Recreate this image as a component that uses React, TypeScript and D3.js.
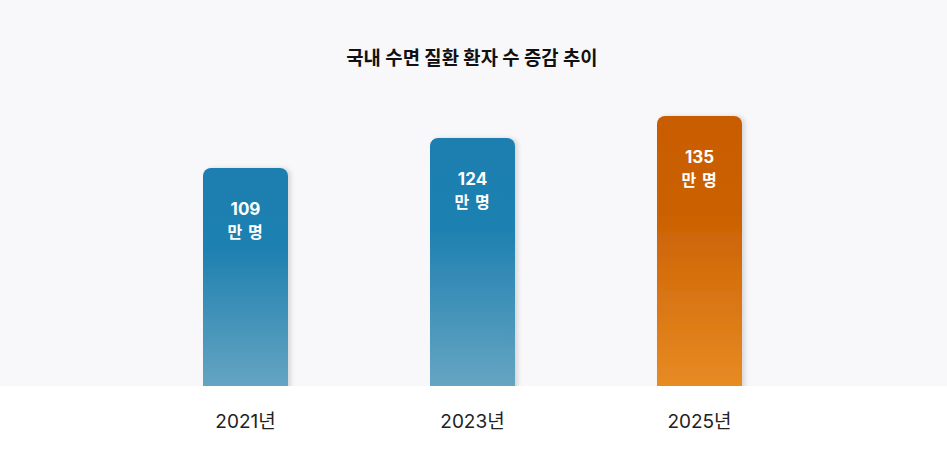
import React from "react";
import { scaleLinear, scalePoint } from "d3";

const title = "국내 수면 질환 환자 수 증감 추이";
const years = ["2021년", "2023년", "2025년"];
const patients = [109, 124, 135];
const unitLabel = "만 명";
const highlight = [false, false, true];

const W = 947;
const H = 469;
const baseY = 386;

export default function App() {
  const x = scalePoint<string>().domain(years).range([132, 813]).padding(0.5);
  // 2px per 만 명
  const y = scaleLinear().domain([0, 193]).range([baseY, 0]);
  const barW = 85;
  const font = "Inter, 'Noto Sans CJK KR', sans-serif";

  return (
    <div style={{ position: "absolute", left: 0, top: 0 }}>
      <svg width={W} height={H} style={{ display: "block" }}>
        <defs>
          <linearGradient id="blueGrad" x1="0" y1="0" x2="0" y2="1">
            <stop offset="0" stopColor="#1b7fb0" />
            <stop offset="0.35" stopColor="#1e80b0" />
            <stop offset="1" stopColor="#6aa7c3" />
          </linearGradient>
          <linearGradient id="orangeGrad" x1="0" y1="0" x2="0" y2="1">
            <stop offset="0" stopColor="#c85c00" />
            <stop offset="0.35" stopColor="#cb6103" />
            <stop offset="1" stopColor="#e98d25" />
          </linearGradient>
          <filter id="shadow" x="-20%" y="-20%" width="140%" height="140%">
            <feDropShadow dx="3" dy="0" stdDeviation="2" floodColor="#000" floodOpacity="0.13" />
          </filter>
          <clipPath id="panelClip">
            <rect x={0} y={0} width={W} height={baseY} />
          </clipPath>
        </defs>

        <rect x={0} y={0} width={W} height={H} fill="#ffffff" />
        <rect x={0} y={0} width={W} height={baseY} fill="#f8f8fb" />

        <text
          x={472}
          y={58}
          textAnchor="middle"
          dominantBaseline="central"
          fontFamily={font}
          fontWeight={700}
          fontSize={18.8}
          fill="#111"
        >
          {title}
        </text>

        <g clipPath="url(#panelClip)">
          {years.map((yr, i) => {
            const cx = x(yr)!;
            const top = y(patients[i]);
            return (
              <rect
                key={yr}
                x={cx - barW / 2}
                y={top}
                width={barW}
                height={baseY - top + 10}
                rx={8}
                ry={8}
                fill={highlight[i] ? "url(#orangeGrad)" : "url(#blueGrad)"}
                filter="url(#shadow)"
              />
            );
          })}
        </g>

        {years.map((yr, i) => {
          const cx = x(yr)!;
          const top = y(patients[i]);
          return (
            <g key={yr + "-lbl"} fontFamily={font} fill="#fff" fontWeight={700} textAnchor="middle">
              <text x={cx} y={top + 47} fontSize={17}>
                {patients[i]}
              </text>
              <text x={cx} y={top + 70} fontSize={16} letterSpacing={1}>
                {unitLabel}
              </text>
            </g>
          );
        })}

        {years.map((yr) => (
          <text
            key={yr + "-x"}
            x={x(yr)!}
            y={421}
            textAnchor="middle"
            dominantBaseline="central"
            fontFamily={font}
            fontSize={19}
            fill="#222"
          >
            {yr}
          </text>
        ))}
      </svg>
    </div>
  );
}
